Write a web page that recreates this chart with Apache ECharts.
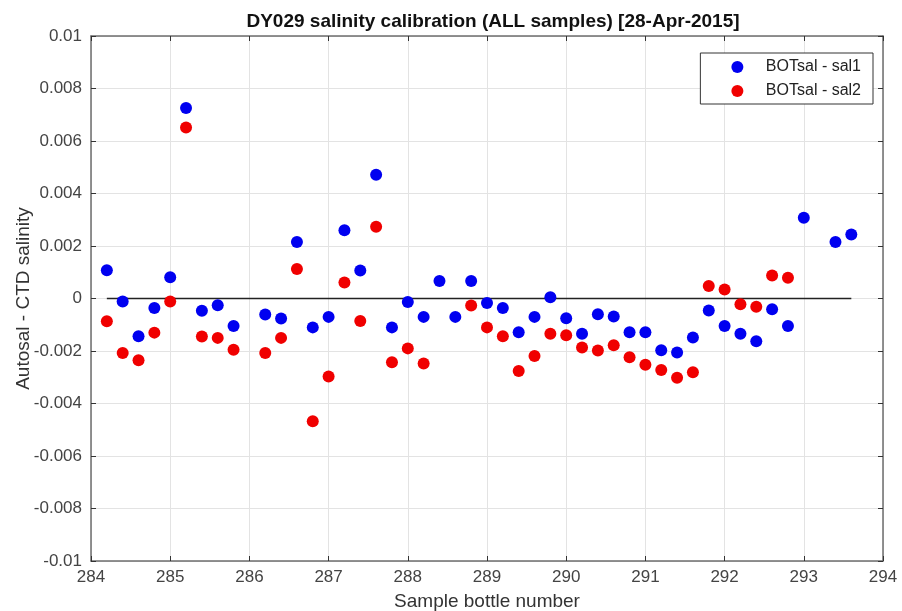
<!DOCTYPE html>
<html><head><meta charset="utf-8">
<script src="https://cdn.jsdelivr.net/npm/echarts@6/dist/echarts.min.js"></script>
<style>html,body{margin:0;padding:0;background:#fff}#c{width:902px;height:611px}</style>
</head><body><div id="c"></div>
<script>
const bottles = [284.2,284.4,284.6,284.8,285.0,285.2,285.4,285.6,285.8,286.2,286.4,286.6,286.8,287.0,287.2,287.4,287.6,287.8,288.0,288.2,288.4,288.6,288.8,289.0,289.2,289.4,289.6,289.8,290.0,290.2,290.4,290.6,290.8,291.0,291.2,291.4,291.6,291.8,292.0,292.2,292.4,292.6,292.8,293.0,293.4,293.6];
const sal1 = [0.00108,-0.00011,-0.00144,-0.00036,0.00081,0.00726,-0.00047,-0.00026,-0.00105,-0.00061,-0.00076,0.00215,-0.0011,-0.0007,0.0026,0.00107,0.00471,-0.0011,-0.00013,-0.0007,0.00067,-0.0007,0.00067,-0.00017,-0.00036,-0.00129,-0.0007,0.00005,-0.00075,-0.00134,-0.0006,-0.00069,-0.00129,-0.00129,-0.00197,-0.00206,-0.00149,-0.00046,-0.00105,-0.00134,-0.00163,-0.00041,-0.00105,0.00308,0.00215,0.00244];
const sal2 = [-0.00087,-0.00208,-0.00235,-0.0013,-0.00011,0.00651,-0.00145,-0.0015,-0.00195,-0.00208,-0.0015,0.00112,-0.00468,-0.00297,0.00061,-0.00086,0.00273,-0.00243,-0.0019,-0.00248,null,null,-0.00027,-0.0011,-0.00144,-0.00276,-0.00219,-0.00134,-0.0014,-0.00187,-0.00198,-0.00178,-0.00224,-0.00252,-0.00272,-0.00302,-0.00281,0.00048,0.00034,-0.00022,-0.00031,0.00088,0.00079,null,null,null];
const seriesNames = ['BOTsal - sal1','BOTsal - sal2'];
const xTicks = {min:284, max:294, step:1};
const yTicks = {min:-0.01, max:0.01, step:0.002};
const titleText = 'DY029 salinity calibration (ALL samples) [28-Apr-2015]';
const xName = 'Sample bottle number';
const yName = 'Autosal - CTD salinity';

const pts = arr => bottles.map((b,i)=>[b,arr[i]]).filter(p=>p[1]!==null);
const font = 'Liberation Sans, Arial, sans-serif';
const axisCol = '#6e6e6e';
const labCol = '#444';
const chart = echarts.init(document.getElementById('c'));
const baseX = {type:'value', min:xTicks.min, max:xTicks.max, interval:xTicks.step,
  axisLine:{show:true, onZero:false, lineStyle:{color:axisCol, width:1.5}},
  axisTick:{show:true, inside:true, length:5, lineStyle:{color:'#333'}}};
const baseY = {type:'value', min:yTicks.min, max:yTicks.max, interval:yTicks.step,
  axisLine:{show:true, onZero:false, lineStyle:{color:axisCol, width:1.5}},
  axisTick:{show:true, inside:true, length:5, lineStyle:{color:'#333'}}};
chart.setOption({
  animation:false,
  backgroundColor:'#fff',
  title:{text:titleText, left:488, top:7, textAlign:'center',
    textStyle:{fontFamily:font, fontSize:19, fontWeight:'bold', color:'#111'}},
  grid:{left:91, top:36, right:19, bottom:50, containLabel:false, outerBoundsMode:'none'},
  legend:{data:seriesNames, orient:'vertical', right:29, top:53,
    padding:[6,12,5,31], itemGap:8, itemWidth:47, itemHeight:12,
    borderColor:'#333', borderWidth:1, backgroundColor:'#fff',
    textStyle:{fontFamily:font, fontSize:16, color:'#222'}},
  xAxis:[
    Object.assign({}, baseX, {position:'bottom', name:xName, nameLocation:'middle', nameGap:31,
      nameMoveOverlap:false,
      nameTextStyle:{fontFamily:font, fontSize:19, color:'#333'},
      axisLabel:{fontFamily:font, fontSize:17, color:labCol, margin:8},
      splitLine:{show:true, lineStyle:{color:'#e3e3e3', width:1}}}),
    Object.assign({}, baseX, {position:'top', axisLabel:{show:false}, splitLine:{show:false}})
  ],
  yAxis:[
    Object.assign({}, baseY, {position:'left', name:yName, nameLocation:'middle', nameGap:58,
      nameMoveOverlap:false,
      nameTextStyle:{fontFamily:font, fontSize:19, color:'#333'},
      axisLabel:{fontFamily:font, fontSize:17, color:labCol, margin:9,
        formatter:v=>String(Number(v.toFixed(4)))},
      splitLine:{show:true, lineStyle:{color:'#e3e3e3', width:1}}}),
    Object.assign({}, baseY, {position:'right', axisLabel:{show:false}, splitLine:{show:false}})
  ],
  series:[
    {type:'line', data:[[bottles[0],0],[bottles[bottles.length-1],0]], symbol:'none',
      lineStyle:{color:'#222', width:1.5}, z:1, silent:true},
    {name:seriesNames[0], type:'scatter', data:pts(sal1), symbolSize:12,
      itemStyle:{color:'#0000f0', opacity:1}, z:3},
    {name:seriesNames[1], type:'scatter', data:pts(sal2), symbolSize:12,
      itemStyle:{color:'#f00000', opacity:1}, z:4}
  ]
});
</script></body></html>
